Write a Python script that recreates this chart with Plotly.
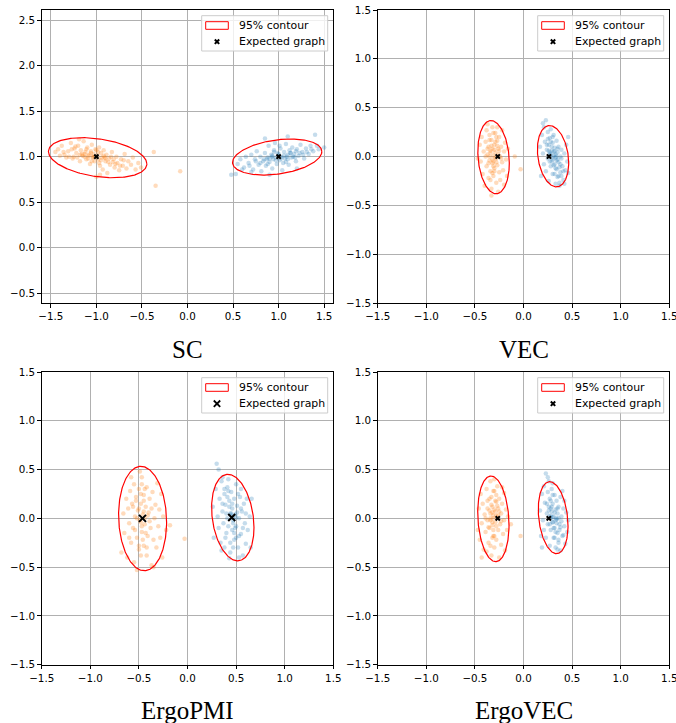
import numpy as np
import plotly.graph_objects as go

W, H = 676, 723

panel_titles = ["SC", "VEC", "ErgoPMI", "ErgoVEC"]

sc_x_ticks = [-1.5, -1.0, -0.5, 0.0, 0.5, 1.0, 1.5]
sc_y_ticks = [-0.5, 0.0, 0.5, 1.0, 1.5, 2.0, 2.5]
std_ticks = [-1.5, -1.0, -0.5, 0.0, 0.5, 1.0, 1.5]
sc_x_range = [-1.6, 1.6]
sc_y_range = [-0.607, 2.61]
std_range = [-1.5, 1.5]

legend_labels = ["95% contour", "Expected graph"]

# ---------------- SC ----------------
sc_orange_x = [-1.42, -1.38, -1.35, -1.31, -1.28, -1.26, -1.24, -1.22, -1.2, -1.18, -1.17, -1.15, -1.14, -1.12,
               -1.11, -1.1, -1.08, -1.07, -1.06, -1.05, -1.04, -1.03, -1.02, -1.01, -0.99, -0.98, -0.97, -0.96,
               -0.95, -0.94, -0.93, -0.92, -0.9, -0.89, -0.88, -0.86, -0.85, -0.83, -0.82, -0.8, -0.78, -0.77,
               -0.75, -0.73, -0.71, -0.69, -0.67, -0.65, -0.62, -0.6, -0.57, -0.54, -0.51, -0.37, -0.35, -0.08,
               -1.45, -1.33, -1.19, -0.96, -1.0, -1.13, -1.09, -1.16, -1.25, -1.04, -0.91,
               -1.13, -1.09, -1.06, -1.02, -0.98, -0.95, -0.92, -1.18, -1.21, -1.27, -1.3, -1.36, -1.4, -0.87,
               -0.84, -0.79, -0.74, -0.7, -1.0, -1.05, -1.11, -0.97, -1.23, -0.9, -0.81]
sc_orange_y = [1.08, 1.12, 1.02, 1.06, 1.15, 0.98, 1.09, 1.04, 1.12, 0.95, 1.07, 1.01, 1.17, 1.05,
               0.97, 1.1, 1.02, 0.92, 1.06, 1.13, 0.99, 1.03, 0.95, 1.08, 1.01, 0.97, 1.1, 0.9,
               1.04, 0.99, 0.86, 1.07, 0.95, 1.02, 0.82, 0.98, 0.91, 1.05, 0.94, 0.88, 1.0, 0.93,
               0.85, 0.97, 0.9, 1.03, 0.87, 0.95, 0.91, 0.99, 0.86, 0.93, 0.88, 1.05, 0.68, 0.84,
               1.05, 0.99, 1.19, 0.8, 0.78, 1.0, 1.01, 1.03, 1.0, 1.0, 0.99,
               1.03, 0.98, 1.04, 1.0, 1.05, 0.96, 1.01, 1.02, 0.99, 1.08, 1.0, 1.05, 1.01, 0.94,
               1.0, 0.92, 0.9, 0.96, 1.07, 0.95, 1.08, 0.93, 1.11, 0.98, 0.97]
sc_blue_x = [0.48, 0.53, 0.55, 0.58, 0.62, 0.64, 0.67, 0.7, 0.72, 0.74, 0.76, 0.78, 0.8, 0.81, 0.83, 0.85,
             0.86, 0.88, 0.89, 0.9, 0.92, 0.93, 0.94, 0.95, 0.97, 0.98, 0.99, 1.01, 1.02, 1.03, 1.05, 1.06,
             1.07, 1.08, 1.1, 1.11, 1.12, 1.14, 1.15, 1.17, 1.19, 1.2, 1.22, 1.24, 1.26, 1.28, 1.3, 1.33,
             1.35, 1.38, 1.4, 1.44, 1.5, 0.85, 1.1, 0.9, 0.7, 1.2, 0.96, 1.04, 1.0, 1.09, 0.93, 1.13, 0.87,
             0.9, 0.93, 0.97, 1.0, 1.03, 1.06, 1.1, 1.13, 1.16, 1.19, 1.23, 0.84, 0.8, 0.75, 0.68, 0.6,
             1.27, 1.31, 1.36, 1.42, 0.95, 1.08, 0.88, 1.01, 1.18]
sc_blue_y = [0.8, 0.81, 0.92, 0.97, 0.88, 1.0, 0.93, 1.02, 0.86, 0.97, 1.06, 0.91, 1.0, 0.84, 0.95, 1.04,
             0.9, 0.99, 1.12, 0.94, 1.02, 0.87, 0.97, 1.07, 0.99, 0.92, 1.04, 0.96, 1.09, 1.0, 0.93, 1.05,
             0.98, 1.14, 1.02, 0.91, 1.07, 0.99, 1.1, 1.03, 0.95, 1.08, 1.01, 1.13, 1.05, 0.98, 1.09, 1.03,
             1.12, 1.06, 1.24, 1.08, 1.1, 1.2, 1.22, 0.8, 0.83, 0.87, 1.15, 0.85, 1.01, 1.0, 1.0, 1.04, 0.97,
             0.98, 1.01, 0.96, 1.03, 0.98, 1.01, 0.97, 1.04, 1.0, 1.06, 1.04, 0.97, 0.93, 0.95, 0.9, 0.86,
             1.02, 1.05, 1.08, 1.12, 1.05, 0.94, 0.92, 1.12, 0.99]
sc_expected_x = [-1.0, 1.0]
sc_expected_y = [1.0, 1.0]
# ellipse params: centre x, centre y, half x-extent, half y-extent, correlation
sc_ellipses = [(-0.986, 0.988, 0.54, 0.22, -0.31), (0.984, 0.996, 0.49, 0.198, 0.30)]

# ---------------- VEC ----------------
vec_orange_x = [-0.45, -0.44, -0.43, -0.42, -0.41, -0.4, -0.39, -0.38, -0.38, -0.37, -0.36, -0.36, -0.35, -0.35,
                -0.34, -0.34, -0.33, -0.33, -0.32, -0.32, -0.31, -0.31, -0.3, -0.3, -0.29, -0.29, -0.28, -0.28,
                -0.27, -0.27, -0.26, -0.26, -0.25, -0.25, -0.24, -0.24, -0.23, -0.22, -0.22, -0.21, -0.2, -0.2,
                -0.19, -0.18, -0.17, -0.16, -0.09, -0.03, -0.33, -0.37, -0.31, -0.35, -0.29, -0.32, -0.47, -0.27,
                -0.34, -0.32, -0.3, -0.28, -0.33, -0.31, -0.29, -0.36, -0.26, -0.35, -0.3, -0.27, -0.39, -0.23,
                -0.32, -0.28, -0.37, -0.25, -0.34, -0.31]
vec_orange_y = [0.12, -0.05, 0.2, -0.18, 0.05, -0.3, 0.15, -0.1, 0.27, 0.02, -0.22, 0.1, -0.04, 0.22,
                -0.15, 0.06, -0.33, 0.17, -0.07, 0.3, 0.01, -0.2, 0.12, -0.12, 0.04, 0.24, -0.27, -0.02,
                0.16, -0.09, 0.08, -0.36, -0.16, 0.2, 0.0, -0.24, 0.1, -0.06, 0.27, -0.14, 0.05, -0.29,
                0.14, -0.03, -0.2, 0.08, 0.0, -0.13, -0.4, 0.33, -0.05, 0.0, -0.01, 0.08, -0.02, 0.3,
                0.04, -0.03, 0.07, -0.06, 0.11, -0.1, 0.15, -0.07, 0.02, 0.17, -0.15, 0.11, 0.0, -0.02,
                -0.17, 0.2, 0.08, 0.06, -0.24, 0.24]
vec_blue_x = [0.17, 0.18, 0.19, 0.2, 0.21, 0.21, 0.22, 0.23, 0.23, 0.24, 0.25, 0.25, 0.26, 0.26, 0.27, 0.27,
              0.28, 0.28, 0.29, 0.29, 0.3, 0.3, 0.31, 0.31, 0.32, 0.32, 0.33, 0.33, 0.34, 0.34, 0.35, 0.35,
              0.36, 0.36, 0.37, 0.38, 0.38, 0.39, 0.4, 0.41, 0.42, 0.43, 0.44, 0.45, 0.46, 0.2, 0.37, 0.42,
              0.33, 0.3, 0.31, 0.27, 0.35, 0.25, 0.39, 0.46,
              0.28, 0.3, 0.32, 0.34, 0.29, 0.31, 0.33, 0.35, 0.27, 0.37, 0.26, 0.39, 0.3, 0.32, 0.36, 0.24,
              0.41, 0.28, 0.34, 0.38]
vec_blue_y = [0.1, -0.2, 0.22, 0.03, 0.3, -0.08, 0.15, 0.37, -0.15, 0.07, 0.25, -0.02, 0.12, -0.25, 0.19, 0.02,
              -0.1, 0.28, 0.06, -0.05, 0.14, -0.18, 0.01, 0.22, -0.08, 0.09, -0.28, -0.01, 0.16, -0.13, 0.04, -0.21,
              0.1, -0.06, -0.3, 0.0, -0.16, 0.07, -0.1, -0.24, 0.03, -0.14, 0.12, -0.05, -0.17, 0.34, -0.27, -0.28,
              0.02, -0.01, 0.05, 0.04, -0.03, 0.18, -0.2, 0.2,
              0.02, -0.03, 0.05, -0.04, 0.1, -0.09, -0.12, 0.08, -0.05, -0.11, 0.06, -0.02, 0.2, -0.18, -0.2, 0.12,
              -0.15, 0.15, 0.0, -0.08]
vec_expected_x = [-0.265, 0.262]
vec_expected_y = [0.0, 0.0]
vec_ellipses = [(-0.308, -0.007, 0.162, 0.375, -0.16), (0.304, 0.003, 0.161, 0.314, -0.22)]

# ---------------- ErgoPMI ----------------
pmi_orange_x = [-0.68, -0.66, -0.65, -0.63, -0.62, -0.61, -0.6, -0.59, -0.58, -0.57, -0.56, -0.55, -0.55, -0.54,
                -0.53, -0.52, -0.51, -0.5, -0.5, -0.49, -0.48, -0.47, -0.47, -0.46, -0.45, -0.45, -0.44, -0.43,
                -0.42, -0.42, -0.41, -0.4, -0.39, -0.38, -0.37, -0.36, -0.35, -0.34, -0.33, -0.32, -0.31, -0.3,
                -0.29, -0.28, -0.27, -0.26, -0.25, -0.22, -0.18, -0.03, -0.52, -0.49, -0.44, -0.48, -0.58, -0.35,
                -0.5, -0.47, -0.45, -0.43, -0.48, -0.52, -0.41, -0.54, -0.46, -0.44, -0.56, -0.39, -0.5, -0.47,
                -0.42, -0.53, -0.37, -0.6, -0.45, -0.48]
pmi_orange_y = [-0.35, 0.05, -0.15, 0.2, -0.4, 0.1, -0.05, 0.28, -0.25, 0.15, -0.1, 0.35, -0.45, 0.02,
                0.22, -0.2, 0.08, -0.32, 0.3, -0.02, 0.15, -0.14, 0.42, 0.04, -0.28, 0.24, -0.06, 0.12,
                -0.38, 0.32, -0.18, 0.06, 0.2, -0.1, -0.48, 0.27, -0.22, 0.0, 0.14, -0.3, 0.36, -0.08,
                0.09, -0.2, 0.25, -0.4, 0.02, -0.12, -0.07, -0.21, -0.53, 0.48, 0.0, -0.04, 0.42, -0.5,
                0.1, -0.08, 0.18, -0.15, 0.25, 0.0, 0.03, -0.12, -0.22, 0.3, 0.12, -0.03, -0.28, 0.35,
                -0.3, 0.18, 0.1, -0.2, 0.07, -0.38]
pmi_blue_x = [0.26, 0.27, 0.29, 0.3, 0.31, 0.32, 0.32, 0.33, 0.34, 0.35, 0.36, 0.37, 0.38, 0.38, 0.39, 0.4,
              0.41, 0.41, 0.42, 0.43, 0.44, 0.44, 0.45, 0.46, 0.46, 0.47, 0.48, 0.48, 0.49, 0.5, 0.5, 0.51,
              0.52, 0.53, 0.54, 0.55, 0.56, 0.57, 0.58, 0.59, 0.6, 0.61, 0.62, 0.64, 0.65, 0.66, 0.43, 0.36,
              0.47, 0.45, 0.5, 0.42, 0.55, 0.39, 0.53, 0.35,
              0.45, 0.47, 0.49, 0.43, 0.51, 0.41, 0.53, 0.46, 0.48, 0.4, 0.55, 0.44, 0.5, 0.38, 0.57, 0.42,
              0.52, 0.47, 0.36, 0.6]
pmi_blue_y = [0.12, -0.2, 0.3, 0.56, 0.02, 0.5, -0.1, 0.2, -0.25, 0.38, 0.07, -0.05, 0.25, -0.3, 0.14, -0.15,
              0.32, 0.0, -0.08, 0.18, -0.35, 0.05, 0.27, -0.12, 0.1, -0.02, 0.2, -0.22, 0.04, 0.35, -0.08, 0.13,
              -0.3, 0.0, 0.22, -0.16, 0.07, -0.38, 0.15, -0.05, -0.26, 0.2, -0.12, 0.02, -0.3, 0.2, -0.41, 0.42,
              0.0, 0.03, 0.01, 0.4, 0.3, -0.2, -0.4, -0.33,
              0.05, -0.05, -0.1, 0.12, 0.06, 0.22, -0.18, 0.15, -0.15, 0.05, 0.1, -0.25, -0.2, 0.3, -0.1, 0.28,
              0.25, -0.3, 0.15, 0.05]
pmi_expected_x = [-0.463, 0.455]
pmi_expected_y = [0.0, 0.008]
pmi_ellipses = [(-0.462, -0.002, 0.247, 0.535, -0.07), (0.466, 0.008, 0.218, 0.443, -0.23)]

# ---------------- ErgoVEC ----------------
evec_orange_x = [-0.46, -0.45, -0.44, -0.43, -0.42, -0.41, -0.4, -0.39, -0.38, -0.37, -0.37, -0.36, -0.35, -0.35,
                 -0.34, -0.34, -0.33, -0.33, -0.32, -0.32, -0.31, -0.31, -0.3, -0.3, -0.29, -0.29, -0.28, -0.28,
                 -0.27, -0.27, -0.26, -0.26, -0.25, -0.25, -0.24, -0.23, -0.23, -0.22, -0.21, -0.2, -0.2, -0.19,
                 -0.18, -0.17, -0.16, -0.13, -0.03, -0.43, -0.3, -0.31, -0.28, -0.34, -0.32, -0.22, -0.47, -0.38,
                 -0.34, -0.32, -0.3, -0.28, -0.33, -0.31, -0.29, -0.36, -0.26, -0.35, -0.3, -0.27, -0.39, -0.23,
                 -0.32, -0.28, -0.37, -0.25, -0.34, -0.31]
evec_orange_y = [0.1, -0.22, 0.25, -0.05, 0.15, -0.32, 0.04, -0.14, 0.3, -0.02, 0.18, -0.25, 0.08, -0.1,
                 0.38, 0.0, -0.38, 0.22, -0.07, 0.12, -0.18, 0.03, 0.28, -0.3, 0.07, -0.04, 0.17, -0.22,
                 0.0, 0.33, -0.12, 0.1, -0.4, 0.2, -0.06, 0.05, -0.27, 0.15, -0.16, 0.26, -0.02, -0.33,
                 0.09, -0.12, 0.02, -0.06, -0.18, -0.4, 0.4, 0.0, 0.03, -0.02, 0.06, 0.32, -0.12, -0.34,
                 0.05, -0.04, 0.09, -0.08, 0.14, -0.12, 0.18, -0.09, 0.03, 0.2, -0.18, 0.13, 0.0, -0.03,
                 -0.2, 0.24, 0.1, 0.07, -0.28, 0.28]
evec_blue_x = [0.17, 0.18, 0.19, 0.2, 0.21, 0.21, 0.22, 0.23, 0.23, 0.24, 0.25, 0.25, 0.26, 0.26, 0.27, 0.27,
               0.28, 0.28, 0.29, 0.29, 0.3, 0.3, 0.31, 0.31, 0.32, 0.32, 0.33, 0.33, 0.34, 0.34, 0.35, 0.35,
               0.36, 0.36, 0.37, 0.38, 0.38, 0.39, 0.4, 0.41, 0.42, 0.43, 0.44, 0.45, 0.46, 0.3, 0.4, 0.27,
               0.3, 0.33, 0.25, 0.35, 0.42, 0.19, 0.28, 0.36,
               0.28, 0.3, 0.32, 0.34, 0.29, 0.31, 0.33, 0.35, 0.27, 0.37, 0.26, 0.39, 0.3, 0.32, 0.36, 0.24,
               0.41, 0.28, 0.34, 0.38]
evec_blue_y = [0.08, -0.18, 0.25, -0.02, 0.33, -0.12, 0.16, 0.46, -0.2, 0.05, 0.27, -0.06, 0.38, 0.12, -0.28, 0.2,
               0.0, -0.12, 0.3, 0.07, -0.04, 0.15, -0.2, 0.02, 0.24, -0.1, 0.09, -0.3, -0.01, 0.18, -0.15, 0.05,
               -0.25, 0.12, -0.06, 0.22, -0.33, 0.02, -0.18, 0.1, -0.08, -0.26, 0.06, -0.14, -0.02, 0.36, 0.28, 0.02,
               0.01, -0.02, 0.42, -0.32, 0.18, -0.3, 0.1, 0.0,
               0.03, -0.04, 0.06, -0.05, 0.12, -0.1, -0.14, 0.1, -0.06, -0.12, 0.08, -0.03, 0.24, -0.2, -0.22, 0.15,
               -0.17, 0.18, 0.0, -0.09]
evec_expected_x = [-0.265, 0.26]
evec_expected_y = [0.0, 0.0]
evec_ellipses = [(-0.31, -0.005, 0.161, 0.439, -0.15), (0.305, 0.007, 0.153, 0.369, -0.23)]

ORANGE = "rgba(255,127,14,0.28)"
BLUE = "rgba(31,119,180,0.26)"

panels = [
    dict(ox=sc_orange_x, oy=sc_orange_y, bx=sc_blue_x, by=sc_blue_y, ex=sc_expected_x, ey=sc_expected_y,
         ell=sc_ellipses, xr=sc_x_range, yr=sc_y_range, xt=sc_x_ticks, yt=sc_y_ticks, big=False),
    dict(ox=vec_orange_x, oy=vec_orange_y, bx=vec_blue_x, by=vec_blue_y, ex=vec_expected_x, ey=vec_expected_y,
         ell=vec_ellipses, xr=std_range, yr=std_range, xt=std_ticks, yt=std_ticks, big=False),
    dict(ox=pmi_orange_x, oy=pmi_orange_y, bx=pmi_blue_x, by=pmi_blue_y, ex=pmi_expected_x, ey=pmi_expected_y,
         ell=pmi_ellipses, xr=std_range, yr=std_range, xt=std_ticks, yt=std_ticks, big=True),
    dict(ox=evec_orange_x, oy=evec_orange_y, bx=evec_blue_x, by=evec_blue_y, ex=evec_expected_x, ey=evec_expected_y,
         ell=evec_ellipses, xr=std_range, yr=std_range, xt=std_ticks, yt=std_ticks, big=False),
]

# axes boxes in pixels: left, top, right, bottom
boxes = [(41.7, 10, 333.3, 303), (377.7, 10, 669.3, 303), (41.7, 372, 333.3, 664.7), (377.7, 372, 669.3, 664.7)]


def px(x):
    return x / W


def py(y):
    return 1 - y / H


def fmt(v):
    return f"{v:.1f}".replace("-", "\u2212")


fig = go.Figure()
shapes = []
annotations = []
layout_axes = {}
t = np.linspace(0, 2 * np.pi, 241)

for i, (p, box) in enumerate(zip(panels, boxes)):
    n = "" if i == 0 else str(i + 1)
    xa, ya = "x" + n, "y" + n
    fig.add_trace(go.Scatter(x=p["ox"], y=p["oy"], mode="markers", xaxis=xa, yaxis=ya, showlegend=False,
                             marker=dict(size=4.5, color=ORANGE, line=dict(width=0)), hoverinfo="skip"))
    fig.add_trace(go.Scatter(x=p["bx"], y=p["by"], mode="markers", xaxis=xa, yaxis=ya, showlegend=False,
                             marker=dict(size=4.5, color=BLUE, line=dict(width=0)), hoverinfo="skip"))
    for (cx, cy, sx, sy, rho) in p["ell"]:
        ex = cx + sx * np.cos(t)
        ey = cy + sy * (rho * np.cos(t) + np.sqrt(1 - rho ** 2) * np.sin(t))
        fig.add_trace(go.Scatter(x=ex, y=ey, mode="lines", xaxis=xa, yaxis=ya, showlegend=False,
                                 line=dict(color="red", width=1.2), hoverinfo="skip"))
    if p["big"]:
        mk = dict(symbol="x-thin", size=7, color="black", line=dict(width=2, color="black"))
    else:
        mk = dict(symbol="x", size=5, color="black", line=dict(width=0))
    fig.add_trace(go.Scatter(x=p["ex"], y=p["ey"], mode="markers", xaxis=xa, yaxis=ya, showlegend=False,
                             marker=mk, hoverinfo="skip"))

    L, T, R, B = box
    common = dict(showline=True, mirror=True, linecolor="black", linewidth=1, showgrid=True,
                  gridcolor="#b0b0b0", gridwidth=0.8, ticks="outside", ticklen=3.5, tickwidth=0.8,
                  tickcolor="black", tickfont=dict(family="DejaVu Sans", size=10.3, color="black"),
                  zeroline=False, tickmode="array", fixedrange=True, automargin=False,
                  ticklabeloverflow="allow")
    layout_axes["xaxis" + n] = dict(common, domain=[px(L), px(R)], range=p["xr"], anchor=ya,
                                    tickvals=p["xt"], ticktext=[fmt(v) for v in p["xt"]])
    layout_axes["yaxis" + n] = dict(common, domain=[py(B), py(T)], range=p["yr"], anchor=xa,
                                    tickvals=p["yt"], ticktext=[fmt(v) for v in p["yt"]])

    # legend box
    shapes.append(dict(type="rect", xref="paper", yref="paper", x0=px(R - 131.6), x1=px(R - 5.6),
                       y0=py(T + 41), y1=py(T + 5.7), line=dict(color="#cccccc", width=1),
                       fillcolor="rgba(255,255,255,0.8)", layer="above"))
    shapes.append(dict(type="rect", xref="paper", yref="paper", x0=px(R - 127.6), x1=px(R - 105),
                       y0=py(T + 19.3), y1=py(T + 11.7), line=dict(color="red", width=1),
                       fillcolor="rgba(0,0,0,0)", layer="above"))
    mx, my = R - 116.3, T + 31.7
    hs = 3.2 if p["big"] else 2.2
    lw = 1.8 if p["big"] else 2.0
    shapes.append(dict(type="path", xref="paper", yref="paper", layer="above",
                       path=f"M{px(mx - hs)},{py(my - hs)} L{px(mx + hs)},{py(my + hs)} "
                            f"M{px(mx - hs)},{py(my + hs)} L{px(mx + hs)},{py(my - hs)}",
                       line=dict(color="black", width=lw)))
    for k, (lab, ly) in enumerate(zip(legend_labels, [T + 15.5, T + 31.7])):
        annotations.append(dict(text=lab, x=px(R - 96), y=py(ly), xref="paper", yref="paper",
                                xanchor="left", yanchor="middle", showarrow=False,
                                font=dict(family="DejaVu Sans", size=10.9, color="black")))
    # panel title
    annotations.append(dict(text=panel_titles[i], x=px((L + R) / 2), y=py(B + 46), xref="paper", yref="paper",
                            xanchor="center", yanchor="middle", showarrow=False,
                            font=dict(family="Liberation Serif", size=25, color="black")))

fig.update_layout(width=W, height=H, autosize=False, margin=dict(l=0, r=0, t=0, b=0, autoexpand=False),
                  paper_bgcolor="white", plot_bgcolor="white", showlegend=False,
                  shapes=shapes, annotations=annotations, **layout_axes)

fig.write_html("out.html", config={"displayModeBar": False})
